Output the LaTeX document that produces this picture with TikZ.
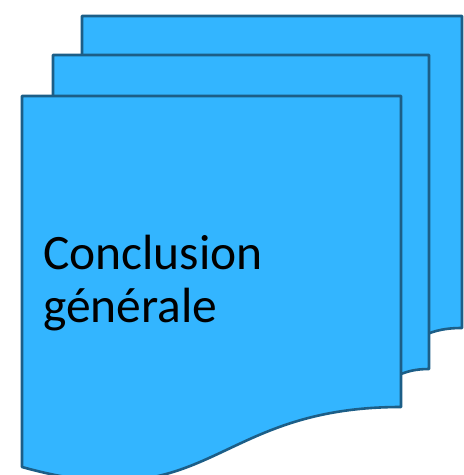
\documentclass[tikz,border=0pt]{standalone}
\usepackage{fontspec}
\setmainfont{Carlito}
\definecolor{docfill}{RGB}{51,181,255}
\definecolor{docline}{RGB}{28,94,135}
\begin{document}
\begin{tikzpicture}[x=1pt,y=-1pt,
  doc/.style={fill=docfill,draw=docline,line width=2.6pt,line join=round}]
\useasboundingbox (0,0) rectangle (464,475);
\clip (0,0) rectangle (464,475);
% back page
\draw[doc] (82,16) -- (462,16) -- (462,328) .. controls (420,328) and (420,345) .. (380,350) -- (82,350) -- cycle;
% middle page
\draw[doc] (53,55) -- (429,55) -- (429,369) .. controls (400,369) and (395,380) .. (360,390) -- (53,390) -- cycle;
% front page
\draw[doc] (22,96) -- (401,96) -- (401,407) .. controls (211.5,407) and (211.5,520) .. (22,467) -- cycle;
\node[anchor=base west,inner sep=0pt,align=left,font=\fontsize{49.5}{53}\selectfont] (t) at (43,322) {Conclusion\\générale};
\end{tikzpicture}
\end{document}
